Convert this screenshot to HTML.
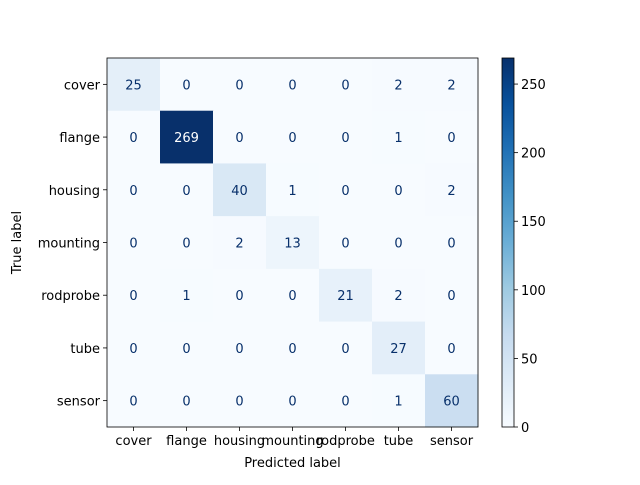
<!DOCTYPE html>
<html><head><meta charset="utf-8"><style>
body{margin:0;background:#fff}
svg text{font-family:"DejaVu Sans","Liberation Sans",sans-serif;font-size:13px}
</style></head><body>
<svg id="c" width="640" height="480" xmlns="http://www.w3.org/2000/svg">
<defs><linearGradient id="g" x1="0" y1="1" x2="0" y2="0">
<stop offset="0" stop-color="#f7fbff"/><stop offset="0.125" stop-color="#deebf7"/><stop offset="0.25" stop-color="#c6dbef"/><stop offset="0.375" stop-color="#9ecae1"/><stop offset="0.5" stop-color="#6baed6"/><stop offset="0.625" stop-color="#4292c6"/><stop offset="0.75" stop-color="#2171b5"/><stop offset="0.875" stop-color="#08519c"/><stop offset="1" stop-color="#08306b"/>
</linearGradient></defs>
</svg>
<script>
const labels=["cover","flange","housing","mounting","rodprobe","tube","sensor"];
const matrix=[
[25,0,0,0,0,2,2],
[0,269,0,0,0,1,0],
[0,0,40,1,0,0,2],
[0,0,2,13,0,0,0],
[0,1,0,0,21,2,0],
[0,0,0,0,0,27,0],
[0,0,0,0,0,1,60]];
const cbTicks=[0,50,100,150,200,250];

const svg=document.getElementById('c');
const NS="http://www.w3.org/2000/svg";
function mk(t,a,p){const e=document.createElementNS(NS,t);for(const k in a)e.setAttribute(k,a[k]);(p||svg).appendChild(e);return e;}
const L=107,T=58,W=371,H=369,n=labels.length,cw=W/n,ch=H/n;
const vmin=0,vmax=Math.max(...matrix.flat());
const stops=[[247,251,255],[222,235,247],[198,219,239],[158,202,225],[107,174,214],[66,146,198],[33,113,181],[8,81,156],[8,48,107]];
function blues(t){t=Math.max(0,Math.min(1,t))*8;const i=Math.min(7,Math.floor(t)),f=t-i;const a=stops[i],b=stops[i+1];return `rgb(${a.map((v,k)=>Math.round(v+(b[k]-v)*f)).join(',')})`;}
const xs=j=>L+j*cw, ys=i=>T+i*ch;
const thresh=(vmax+vmin)/2;
matrix.forEach((row,i)=>row.forEach((v,j)=>{
 const r=mk('rect',{x:xs(j),y:ys(i),width:cw+0.5,height:ch+0.5,fill:blues((v-vmin)/(vmax-vmin))});
 
 
 const t=mk('text',{x:xs(j)+cw/2,y:ys(i)+ch/2+5,'text-anchor':'middle',fill:v>thresh?'#ffffff':'#08306b'});
 t.textContent=v;
 
 
}));
mk('rect',{x:L,y:T,width:W,height:H,fill:'none',stroke:'#000','stroke-width':0.8});
labels.forEach((lb,j)=>{
 mk('line',{x1:xs(j)+cw/2,x2:xs(j)+cw/2,y1:T+H,y2:T+H+4,stroke:'#000','stroke-width':0.8});
 const t=mk('text',{x:xs(j)+cw/2,y:T+H+18,'text-anchor':'middle',fill:'#000'});t.textContent=lb;
 
 
 mk('line',{x1:L-4,x2:L,y1:ys(j)+ch/2,y2:ys(j)+ch/2,stroke:'#000','stroke-width':0.8});
 const u=mk('text',{x:L-7,y:ys(j)+ch/2+5,'text-anchor':'end',fill:'#000'});u.textContent=lb;
 
 
});
const xt=mk('text',{x:L+W/2,y:467,'text-anchor':'middle',fill:'#000'});xt.textContent='Predicted label';


const yt=mk('text',{x:0,y:0,'text-anchor':'middle',fill:'#000',transform:`translate(21,${T+H/2}) rotate(-90)`});yt.textContent='True label';


const CX=502,CW=12;
const cb=mk('rect',{x:CX,y:T,width:CW,height:H,fill:'url(#g)',stroke:'#000','stroke-width':0.8});


const cy=v=>T+H-(v-vmin)/(vmax-vmin)*H;
cbTicks.forEach(v=>{
 mk('line',{x1:CX+CW,x2:CX+CW+4,y1:cy(v),y2:cy(v),stroke:'#000','stroke-width':0.8});
 const t=mk('text',{x:CX+CW+7,y:cy(v)+5,fill:'#000'});t.textContent=v;
 
 
});
</script>
</body></html>
